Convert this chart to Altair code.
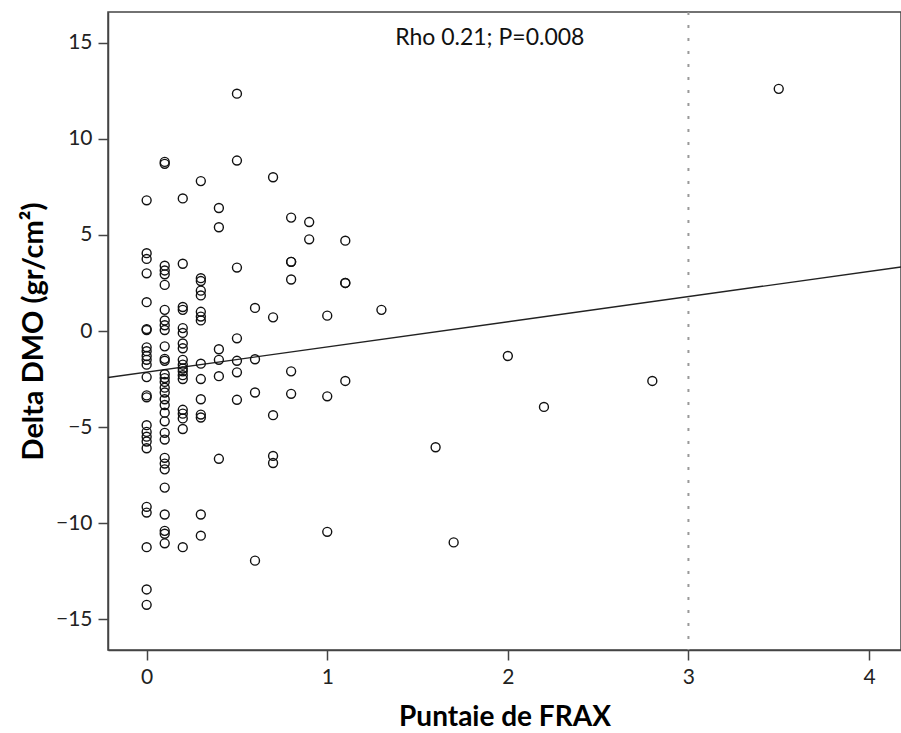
import altair as alt
import pandas as pd

# ---- data (FRAX score -> Delta DMO values) ----
frax_levels = [0.0, 0.1, 0.2, 0.3, 0.4, 0.5, 0.6, 0.7, 0.8, 0.9, 1.0, 1.1, 1.3, 1.6, 1.7, 2.0, 2.2, 2.8, 3.5]

dmo_f00 = [6.8, 4.05, 3.75, 3.0, 1.5, 0.1, 0.05, -0.85, -1.05, -1.3, -1.5, -1.75, -2.4,
           -3.35, -3.45, -4.9, -5.25, -5.5, -5.75, -6.1, -9.15, -9.45, -11.25, -13.45, -14.25]
dmo_f01 = [8.8, 8.7, 3.4, 3.15, 2.95, 2.4, 1.1, 0.55, 0.3, 0.05, -0.8, -1.45, -1.55, -2.25,
           -2.45, -2.65, -2.95, -3.2, -3.55, -3.85, -4.25, -4.7, -5.3, -5.65, -6.6, -6.9,
           -7.2, -8.15, -9.55, -10.4, -10.55, -11.05]
dmo_f02 = [6.9, 3.5, 1.25, 1.1, 0.15, -0.1, -0.65, -0.9, -1.5, -1.75, -1.95, -2.1, -2.3,
           -2.5, -4.1, -4.3, -4.55, -5.1, -11.25]
dmo_f03 = [7.8, 2.75, 2.6, 2.1, 1.85, 1.0, 0.75, 0.55, -1.7, -2.5, -3.55, -4.35, -4.5,
           -9.55, -10.65]
dmo_f04 = [6.4, 5.4, -0.95, -1.5, -2.35, -6.65]
dmo_f05 = [12.35, 8.87, 3.3, -0.38, -1.55, -2.15, -3.58]
dmo_f06 = [1.2, -1.47, -3.2, -11.95]
dmo_f07 = [8.0, 0.71, -4.38, -6.5, -6.87]
dmo_f08 = [5.9, 3.6, 3.6, 2.68, -2.1, -3.27]
dmo_f09 = [5.67, 4.77]
dmo_f10 = [0.8, -3.4, -10.45]
dmo_f11 = [4.7, 2.5, 2.5, -2.6]
dmo_f13 = [1.1]
dmo_f16 = [-6.05]
dmo_f17 = [-11.0]
dmo_f20 = [-1.3]
dmo_f22 = [-3.95]
dmo_f28 = [-2.6]
dmo_f35 = [12.6]

dmo_groups = [dmo_f00, dmo_f01, dmo_f02, dmo_f03, dmo_f04, dmo_f05, dmo_f06, dmo_f07,
              dmo_f08, dmo_f09, dmo_f10, dmo_f11, dmo_f13, dmo_f16, dmo_f17, dmo_f20,
              dmo_f22, dmo_f28, dmo_f35]

# fitted line
fit_intercept = -2.14
fit_slope = 1.31
threshold = 3

annotation = "Rho 0.21; P=0.008"
x_ticks = [0, 1, 2, 3, 4]
y_ticks = [-15, -10, -5, 0, 5, 10, 15]

x_domain = [-0.214, 4.177]
y_domain = [-16.6, 16.6]

rows = []
for fx, vals in zip(frax_levels, dmo_groups):
    for v in vals:
        rows.append({"frax": fx, "dmo": v})
points_df = pd.DataFrame(rows)

fit_df = pd.DataFrame({
    "frax": x_domain,
    "dmo": [fit_intercept + fit_slope * x for x in x_domain],
})
rule_df = pd.DataFrame({"frax": [threshold]})
text_df = pd.DataFrame({"frax": [1.9], "dmo": [15.26], "label": [annotation]})

FONT = "Lato"

x_scale = alt.Scale(domain=x_domain, nice=False, zero=False)
y_scale = alt.Scale(domain=y_domain, nice=False, zero=False)

x_axis = alt.Axis(values=x_ticks, format="d", title="Puntaie de FRAX", grid=False,
                  tickSize=10, labelPadding=6, labelFontSize=21, labelFont=FONT,
                  labelColor="#222", titleFont=FONT, titleFontSize=28,
                  titleFontWeight="bold", titleColor="#000", titleY=75,
                  titleBaseline="alphabetic", domainColor="#444", domainWidth=1.5,
                  tickColor="#444", tickWidth=1.5, labelFlush=False)
y_axis = alt.Axis(values=y_ticks, format="d", title="Delta DMO (gr/cm²)", grid=False,
                  tickSize=10, labelPadding=6, labelFontSize=21, labelFont=FONT,
                  labelColor="#222", titleFont=FONT, titleFontSize=29,
                  titleFontWeight="bold", titleColor="#000", titleX=-66, titleY=319,
                  titleAngle=-90, titleBaseline="alphabetic", titleAlign="center",
                  domainColor="#444", domainWidth=1.5, tickColor="#444", tickWidth=1.5,
                  labelFlush=False)

pts = alt.Chart(points_df).mark_point(
    shape="circle", filled=False, size=80, color="#111", strokeWidth=1.4, opacity=1
).encode(
    x=alt.X("frax:Q", scale=x_scale, axis=x_axis),
    y=alt.Y("dmo:Q", scale=y_scale, axis=y_axis),
)

fit = alt.Chart(fit_df).mark_line(color="#222", strokeWidth=1.4, clip=True).encode(
    x=alt.X("frax:Q", scale=x_scale),
    y=alt.Y("dmo:Q", scale=y_scale),
)

rule = alt.Chart(rule_df).mark_rule(color="#999", strokeWidth=2, strokeDash=[3, 10]).encode(
    x=alt.X("frax:Q", scale=x_scale),
)

txt = alt.Chart(text_df).mark_text(font=FONT, fontSize=23, color="#111",
                                   baseline="middle", align="center").encode(
    x=alt.X("frax:Q", scale=x_scale),
    y=alt.Y("dmo:Q", scale=y_scale),
    text="label:N",
)

chart = alt.layer(rule, fit, pts, txt).properties(
    width=793, height=638,
    autosize=alt.AutoSizeParams(type="none"),
    padding={"left": 108, "top": 12, "right": 0, "bottom": 83},
    background="white",
).configure_view(stroke="#444", strokeWidth=1.5)

chart.save("out.html", embed_options={"renderer": "svg", "actions": False})
